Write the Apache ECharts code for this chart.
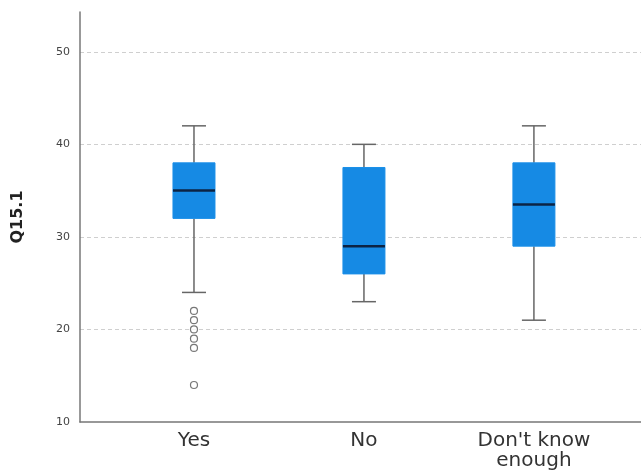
<!DOCTYPE html>
<html>
<head>
<meta charset="utf-8">
<script src="https://cdn.jsdelivr.net/npm/echarts@6/dist/echarts.min.js"></script>
<style>
html,body{margin:0;padding:0;background:#fff;}
#chart{width:641px;height:472px;}
</style>
</head>
<body>
<div id="chart"></div>
<script>
var categories = ['Yes', 'No', "Don't know enough"];
var whiskerLow = [24, 23, 21];
var q1 = [32, 26, 29];
var median = [35, 29, 33.5];
var q3 = [38, 37.5, 38];
var whiskerHigh = [42, 40, 42];
var outliersYes = [22, 21, 20, 19, 18, 14];
var yTicks = [10, 20, 30, 40, 50];

var boxData = categories.map(function (c, i) {
  return [i + 1, whiskerLow[i], q1[i], median[i], q3[i], whiskerHigh[i]];
});
var outlierData = outliersYes.map(function (v) { return [1, v]; });

var BOX_W = 42, CAP_W = 24;

function renderBox(params, api) {
  var x = api.value(0);
  var pLow = api.coord([x, api.value(1)]);
  var pQ1 = api.coord([x, api.value(2)]);
  var pMed = api.coord([x, api.value(3)]);
  var pQ3 = api.coord([x, api.value(4)]);
  var pHigh = api.coord([x, api.value(5)]);
  var cx = pMed[0];
  var wStyle = { stroke: '#666666', lineWidth: 1.5 };
  return {
    type: 'group',
    children: [
      { type: 'line', shape: { x1: cx, y1: pHigh[1], x2: cx, y2: pQ3[1] }, style: wStyle },
      { type: 'line', shape: { x1: cx, y1: pQ1[1], x2: cx, y2: pLow[1] }, style: wStyle },
      { type: 'line', shape: { x1: cx - CAP_W / 2, y1: pHigh[1], x2: cx + CAP_W / 2, y2: pHigh[1] }, style: wStyle },
      { type: 'line', shape: { x1: cx - CAP_W / 2, y1: pLow[1], x2: cx + CAP_W / 2, y2: pLow[1] }, style: wStyle },
      { type: 'rect', shape: { x: cx - BOX_W / 2, y: pQ3[1], width: BOX_W, height: pQ1[1] - pQ3[1] },
        style: { fill: '#168ae4', stroke: '#1a8fe8', lineWidth: 1 } },
      { type: 'line', shape: { x1: cx - BOX_W / 2, y1: pMed[1], x2: cx + BOX_W / 2, y2: pMed[1] },
        style: { stroke: '#0c2344', lineWidth: 2.5 } }
    ]
  };
}

var chart = echarts.init(document.getElementById('chart'), null, { renderer: 'canvas' });
chart.setOption({
  backgroundColor: '#ffffff',
  animation: false,
  grid: { left: 80, right: 0, top: 12, bottom: 50, containLabel: false },
  xAxis: {
    type: 'value',
    min: 0.3294,
    max: 3.63,
    axisLine: { show: true, lineStyle: { color: '#777', width: 1.5 } },
    axisTick: { show: false },
    splitLine: { show: false },
    axisLabel: {
      customValues: [1, 2, 3],
      formatter: function (v) {
        var i = Math.round(v) - 1;
        return i === 2 ? "Don't know\nenough" : categories[i];
      },
      color: '#333',
      fontSize: 20,
      lineHeight: 20,
      fontFamily: 'DejaVu Sans, sans-serif',
      margin: 9
    }
  },
  yAxis: {
    type: 'value',
    min: 10,
    max: 54.3,
    interval: 10,
    name: 'Q15.1',
    nameLocation: 'middle',
    nameRotate: 90,
    nameGap: 54,
    nameTextStyle: { fontSize: 16, fontWeight: 'bold', color: '#222', fontFamily: 'DejaVu Sans, sans-serif' },
    axisLine: { show: true, lineStyle: { color: '#777', width: 1.5 } },
    axisTick: { show: false },
    axisLabel: {
      showMaxLabel: false,
      color: '#444',
      fontSize: 11,
      fontFamily: 'DejaVu Sans, sans-serif',
      margin: 10,
      formatter: function (v) { return yTicks.indexOf(v) >= 0 ? String(v) : ''; }
    },
    splitLine: {
      show: true,
      showMinLine: false,
      showMaxLine: false,
      lineStyle: { color: '#cfcfcf', type: [4, 3], width: 1 }
    }
  },
  series: [
    {
      type: 'custom',
      renderItem: renderBox,
      encode: { x: 0, y: [1, 2, 3, 4, 5] },
      data: boxData,
      z: 3
    },
    {
      type: 'scatter',
      data: outlierData,
      symbol: 'circle',
      symbolSize: 7,
      itemStyle: { color: '#ffffff', borderColor: '#555', borderWidth: 1.2 },
      z: 4
    }
  ]
});
</script>
</body>
</html>
